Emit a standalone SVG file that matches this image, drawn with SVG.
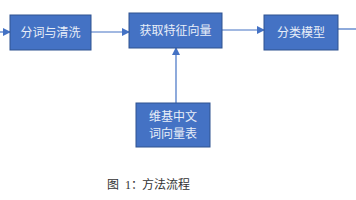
<svg xmlns="http://www.w3.org/2000/svg" width="356" height="200" viewBox="0 0 356 200">
<style>
.box{fill:#4472C4;stroke:#2F528F;stroke-width:1}
.lbl{font-family:"Noto Sans CJK SC",sans-serif;font-size:12px;fill:#E8EEF8;text-anchor:middle}
.con{stroke:#4472C4;stroke-width:1.2;fill:none}
.cap{font-family:"Liberation Serif","Noto Sans CJK SC",serif;font-size:12px;fill:#333}
</style>
<defs>
<marker id="ah" markerWidth="8" markerHeight="8" refX="7" refY="4" orient="auto" markerUnits="userSpaceOnUse">
<path d="M0,0 L8,4 L0,8 Z" fill="#4472C4"/>
</marker>
</defs>
<g id="connectors">
<line class="con" x1="0" y1="32" x2="10" y2="32" marker-end="url(#ah)"/>
<line class="con" x1="91" y1="32" x2="129" y2="32" marker-end="url(#ah)"/>
<line class="con" x1="222" y1="30" x2="264" y2="30" marker-end="url(#ah)"/>
<line class="con" x1="338" y1="29" x2="356" y2="29"/>
<line class="con" x1="176" y1="103" x2="176" y2="48" marker-end="url(#ah)"/>
</g>
<g id="n1"><rect class="box" x="10" y="15" width="81" height="35"/><text class="lbl" x="50.5" y="37">分词与清洗</text></g>
<g id="n2"><rect class="box" x="129" y="13" width="93" height="35"/><text class="lbl" x="175.5" y="35">获取特征向量</text></g>
<g id="n3"><rect class="box" x="264" y="15" width="74" height="35"/><text class="lbl" x="301" y="37">分类模型</text></g>
<g id="n4"><rect class="box" x="136" y="103" width="74" height="44"/><text class="lbl" x="173" y="121">维基中文</text><text class="lbl" x="173" y="138">词向量表</text></g>
<text class="cap" y="189"><tspan x="107">图</tspan><tspan x="125">1：</tspan><tspan x="142">方法流程</tspan></text>
</svg>
